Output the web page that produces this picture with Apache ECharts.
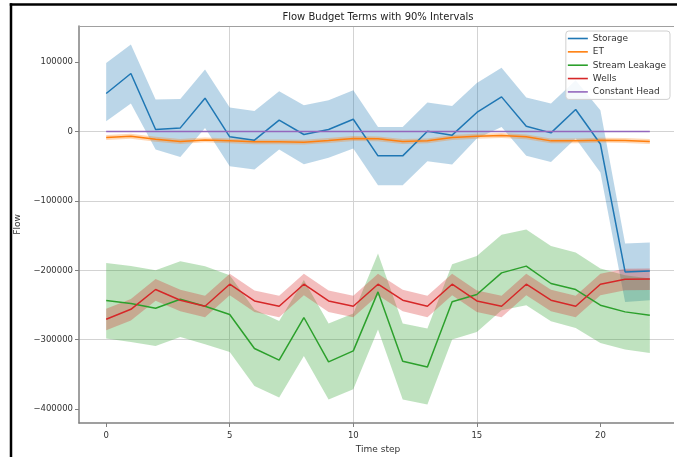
<!DOCTYPE html>
<html>
<head>
<meta charset="utf-8">
<script src="https://cdn.jsdelivr.net/npm/echarts@6/dist/echarts.min.js"></script>
<style>
  html, body { margin: 0; padding: 0; background: #fff; overflow: hidden; }
  #chart { width: 677px; height: 457px; }
</style>
</head>
<body>
<div id="chart"></div>
<script>
// Time steps on the x axis
const steps = [0, 1, 2, 3, 4, 5, 6, 7, 8, 9, 10, 11, 12, 13, 14, 15, 16, 17, 18, 19, 20, 21, 22];

// Storage: median and 90% interval bounds
const storageMid  = [54700, 83600, 2900, 5200, 48000, -7700, -12500, 16300, -4300, 2900, 17700, -35100, -35100, 400, -5300, 27400, 49900, 7600, -2000, 31700, -18000, -202300, -200900];
const storageLow  = [14800, 40300, -25900, -36600, 5200, -50000, -54800, -25900, -47100, -38000, -24500, -77400, -77400, -42800, -47600, -10100, 6600, -35100, -43800, -10100, -59000, -245500, -243100];
const storageHigh = [98800, 125400, 46100, 47000, 89300, 34600, 29700, 58100, 37900, 45100, 59500, 6600, 6600, 41800, 36900, 70000, 91700, 49000, 40300, 73900, 30700, -161400, -160000];

// ET
const etMid  = [-8600, -6800, -11100, -14400, -12100, -13500, -14900, -14900, -15400, -13000, -10100, -10600, -14400, -13500, -8700, -6800, -5800, -7700, -13500, -13500, -12500, -13000, -14400];
const etLow  = [-12100, -10300, -14600, -17900, -15600, -17000, -18400, -18400, -18900, -16500, -13600, -14100, -17900, -17000, -12200, -10300, -9300, -11200, -17000, -17000, -16000, -16500, -17900];
const etHigh = [-5100, -3300, -7600, -10900, -8600, -10000, -11400, -11400, -11900, -9500, -6600, -7100, -10900, -10000, -5200, -3300, -2300, -4200, -10000, -10000, -9000, -9500, -10900];

// Stream Leakage
const streamMid  = [-243500, -247800, -254600, -241600, -251700, -263700, -312700, -329500, -268000, -331900, -316100, -231100, -331000, -339200, -245200, -234900, -203700, -194000, -219000, -227700, -250300, -259900, -264700];
const streamLow  = [-298300, -303200, -308900, -296000, -306500, -317600, -366600, -383300, -323300, -386200, -371300, -285300, -386200, -393400, -299700, -288800, -257500, -250300, -273300, -283000, -304600, -314200, -319000];
const streamHigh = [-189300, -193700, -199900, -186900, -194000, -207100, -256500, -273200, -214100, -276700, -262200, -175800, -276700, -283900, -191200, -179500, -148700, -141200, -164800, -174400, -197400, -207100, -211900];

// Wells
const wellsMid  = [-270500, -256200, -227700, -243100, -251700, -220000, -244100, -251700, -220000, -244100, -251700, -220000, -243100, -251700, -220000, -244100, -251700, -220000, -243100, -251700, -220000, -212800, -212400];
const wellsLow  = [-286500, -272200, -243700, -259100, -267700, -236000, -260100, -267700, -236000, -260100, -267700, -236000, -259100, -267700, -236000, -260100, -267700, -236000, -259100, -267700, -236000, -228800, -228400];
const wellsHigh = [-255500, -241200, -212700, -228100, -236700, -205000, -229100, -236700, -205000, -229100, -236700, -205000, -228100, -236700, -205000, -229100, -236700, -205000, -228100, -236700, -205000, -197800, -197400];

// Constant Head
const chMid  = [0, 0, 0, 0, 0, 0, 0, 0, 0, 0, 0, 0, 0, 0, 0, 0, 0, 0, 0, 0, 0, 0, 0];
const chLow  = [-600, -600, -600, -600, -600, -600, -600, -600, -600, -600, -600, -600, -600, -600, -600, -600, -600, -600, -600, -600, -600, -600, -600];
const chHigh = [600, 600, 600, 600, 600, 600, 600, 600, 600, 600, 600, 600, 600, 600, 600, 600, 600, 600, 600, 600, 600, 600, 600];

// Axis ticks
const xTicks = [0, 5, 10, 15, 20];
const yTicks = [-400000, -300000, -200000, -100000, 0, 100000];

const terms = [
  { name: 'Storage',        color: '#1f77b4', mid: storageMid, low: storageLow, high: storageHigh },
  { name: 'ET',             color: '#ff7f0e', mid: etMid,      low: etLow,      high: etHigh },
  { name: 'Stream Leakage', color: '#2ca02c', mid: streamMid,  low: streamLow,  high: streamHigh },
  { name: 'Wells',          color: '#d62728', mid: wellsMid,   low: wellsLow,   high: wellsHigh },
  { name: 'Constant Head',  color: '#9467bd', mid: chMid,      low: chLow,      high: chHigh }
];

const FONT = 'DejaVu Sans';
const SPINE = '#808080';
const fmt = v => String(v).replace('-', '\u2212');

// Shaded interval: a polygon running along the upper bound and back along the lower bound
function bandSeries(t, idx) {
  return {
    type: 'custom',
    id: 'band' + idx,
    silent: true,
    z: 1,
    data: [[0, 0]],
    renderItem: function (params, api) {
      const pts = [];
      for (let i = 0; i < steps.length; i++) pts.push(api.coord([steps[i], t.high[i]]));
      for (let i = steps.length - 1; i >= 0; i--) pts.push(api.coord([steps[i], t.low[i]]));
      return { type: 'polygon', shape: { points: pts }, style: { fill: t.color, opacity: 0.3 } };
    }
  };
}

function lineSeries(t) {
  return {
    type: 'line',
    name: t.name,
    z: 3,
    showSymbol: false,
    symbol: 'none',
    color: t.color,
    lineStyle: { color: t.color, width: 1.5 },
    data: steps.map((s, i) => [s, t.mid[i]])
  };
}

const series = [];
terms.forEach((t, i) => series.push(bandSeries(t, i)));
terms.forEach(t => series.push(lineSeries(t)));

const chart = echarts.init(document.getElementById('chart'), null, { renderer: 'canvas' });
chart.setOption({
  backgroundColor: '#ffffff',
  animation: false,
  grid: { left: 79, top: 26, right: 0, bottom: 34, outerBoundsMode: 'none' },
  xAxis: {
    type: 'value',
    min: -1.1, max: 23.1,
    name: 'Time step',
    nameLocation: 'middle',
    nameGap: 21,
    nameTextStyle: { fontFamily: FONT, fontSize: 9, color: '#333' },
    axisLine: { show: true, onZero: false, lineStyle: { color: SPINE, width: 1.5 } },
    axisTick: { show: true, length: 4, customValues: xTicks, lineStyle: { color: SPINE } },
    axisLabel: { customValues: xTicks, formatter: fmt, margin: 8, fontFamily: FONT, fontSize: 8.5, color: '#333' },
    splitLine: { show: true, showMinLine: false, showMaxLine: false, lineStyle: { color: '#d3d3d3', width: 1 } }
  },
  yAxis: {
    type: 'value',
    min: -420000, max: 152000,
    name: 'Flow',
    nameLocation: 'middle',
    nameGap: 42,
    nameTextStyle: { fontFamily: FONT, fontSize: 9, color: '#333' },
    axisLine: { show: true, onZero: false, lineStyle: { color: SPINE, width: 1.5 } },
    axisTick: { show: true, length: 4, customValues: yTicks, lineStyle: { color: SPINE } },
    axisLabel: { customValues: yTicks, formatter: fmt, margin: 6, fontFamily: FONT, fontSize: 8.5, color: '#333' },
    splitLine: { show: true, showMinLine: false, showMaxLine: false, lineStyle: { color: '#d3d3d3', width: 1 } }
  },
  legend: {
    data: terms.map(t => ({ name: t.name, icon: 'rect' })),
    orient: 'vertical',
    right: 7, top: 31,
    itemWidth: 20, itemHeight: 1.6, itemGap: 2.35,
    padding: [2, 4, 2, 2],
    backgroundColor: 'rgba(255,255,255,0.85)',
    borderColor: '#d0d0d0', borderWidth: 1, borderRadius: 3,
    textStyle: { fontFamily: FONT, fontSize: 9, lineHeight: 11, color: '#333' }
  },
  graphic: [
    {
      type: 'text', x: 378, y: 17, z: 10,
      style: { text: 'Flow Budget Terms with 90% Intervals', fontFamily: FONT, fontSize: 10, fill: '#222', align: 'center', verticalAlign: 'middle' }
    },
    {
      // top spine of the plot area
      type: 'line', z: 10,
      shape: { x1: 79, y1: 26.5, x2: 677, y2: 26.5 },
      style: { stroke: '#a0a0a0', lineWidth: 1 }
    },
    {
      // keep the right edge of the figure clear
      type: 'rect', z: 50,
      shape: { x: 674, y: 6, width: 3, height: 451 },
      style: { fill: '#fff' }
    },
    {
      // outer figure frame: left edge
      type: 'line', z: 60,
      shape: { x1: 11, y1: 3.3, x2: 11, y2: 457 },
      style: { stroke: '#000', lineWidth: 2.5 }
    },
    {
      // outer figure frame: top edge
      type: 'line', z: 60,
      shape: { x1: 9.75, y1: 4.5, x2: 677, y2: 4.5 },
      style: { stroke: '#000', lineWidth: 2.5 }
    }
  ],
  series: series
});
</script>
</body>
</html>
